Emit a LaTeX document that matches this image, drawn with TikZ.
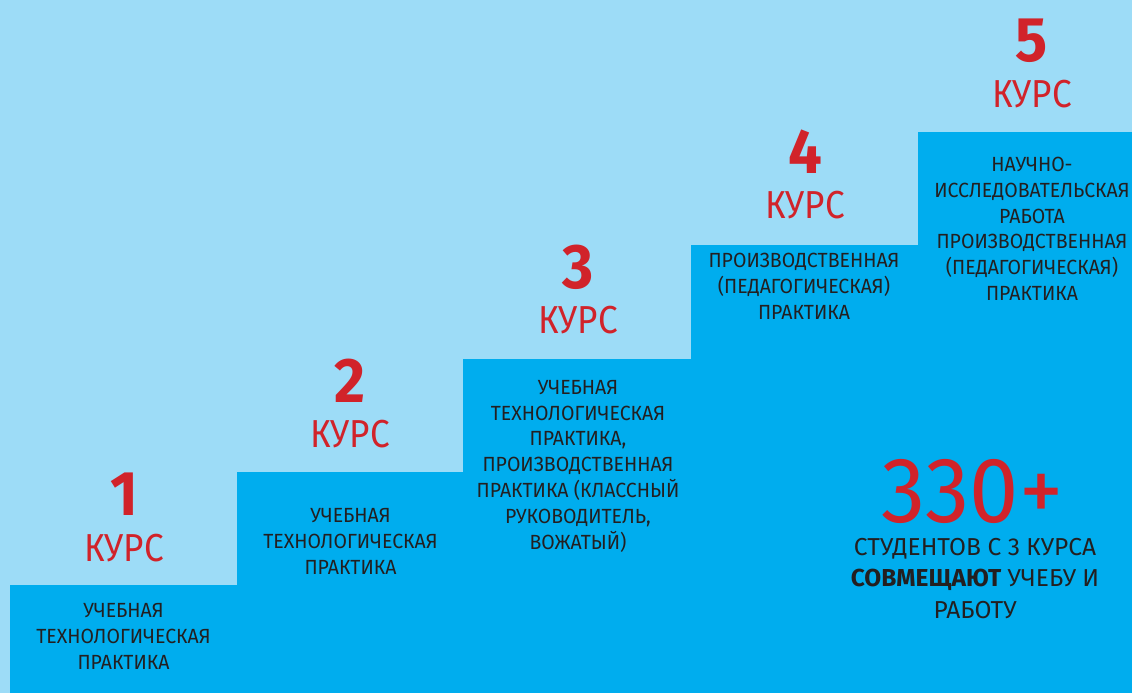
\documentclass[tikz,border=0pt]{standalone}
\usepackage{fontspec}
\setmainfont{Fira Sans}[FakeStretch=0.95]
\newfontfamily\kursfont{Fira Sans}[FakeStretch=0.9]
\newfontfamily\statfont{Fira Sans}[FakeStretch=1.0]
\definecolor{bglight}{HTML}{9DDCF7}
\definecolor{stepblue}{HTML}{00ADEE}
\definecolor{kred}{HTML}{D1232A}
\definecolor{ink}{HTML}{231F20}
\tikzset{
  stepbox/.style={fill=stepblue, draw=none},
  numtxt/.style={anchor=base, inner sep=0pt, text=kred, font=\fontsize{63}{63}\selectfont\bfseries},
  kurstxt/.style={anchor=base, inner sep=0pt, text=kred, font=\kursfont\fontsize{39}{39}\selectfont},
  bodytxt/.style={anchor=north, inner sep=0pt, text=ink, align=center, font=\fontsize{20.5}{25.8}\selectfont},
  bigtxt/.style={anchor=base, inner sep=0pt, text=kred, font=\fontsize{93}{93}\selectfont},
  statstxt/.style={anchor=base, inner sep=0pt, text=ink, align=center, font=\statfont\fontsize{24.5}{31.5}\selectfont}
}
\begin{document}
\begin{tikzpicture}[x=1pt,y=-1pt]
\fill[bglight] (0,0) rectangle (1132,693);
\useasboundingbox (0,0) rectangle (1132,693);
% steps
\path[stepbox] (10,585) rectangle (237,693);
\path[stepbox] (237,472) rectangle (464,693);
\path[stepbox] (463,359) rectangle (691,693);
\path[stepbox] (691,245) rectangle (918,693);
\path[stepbox] (918,132) rectangle (1132,693);
% numbers
\node[numtxt] (n1) at (124,515) {1};
\node[kurstxt] (k1) at (124,561) {КУРС};
\node[numtxt] (n2) at (350,402) {2};
\node[kurstxt] (k2) at (350,447) {КУРС};
\node[numtxt] (n3) at (578,288) {3};
\node[kurstxt] (k3) at (578,333) {КУРС};
\node[numtxt] (n4) at (805,173) {4};
\node[kurstxt] (k4) at (805,218) {КУРС};
\node[numtxt] (n5) at (1032,62) {5};
\node[kurstxt] (k5) at (1032,107) {КУРС};
% body texts
\node[bodytxt] (t1) at (123.5,603.5) {УЧЕБНАЯ\\ТЕХНОЛОГИЧЕСКАЯ\\ПРАКТИКА};
\node[bodytxt] (t2) at (350.5,508.5) {УЧЕБНАЯ\\ТЕХНОЛОГИЧЕСКАЯ\\ПРАКТИКА};
\node[bodytxt] (t3) at (578,380) {УЧЕБНАЯ\\ТЕХНОЛОГИЧЕСКАЯ\\ПРАКТИКА,\\ПРОИЗВОДСТВЕННАЯ\\ПРАКТИКА (КЛАССНЫЙ\\РУКОВОДИТЕЛЬ,\\ВОЖАТЫЙ)};
\node[bodytxt] (t4) at (804,253) {ПРОИЗВОДСТВЕННАЯ\\(ПЕДАГОГИЧЕСКАЯ)\\ПРАКТИКА};
\node[bodytxt] (t5) at (1032,157) {НАУЧНО-\\ИССЛЕДОВАТЕЛЬСКАЯ\\РАБОТА\\ПРОИЗВОДСТВЕННАЯ\\(ПЕДАГОГИЧЕСКАЯ)\\ПРАКТИКА};
% stats
\node[bigtxt] (big) at (972.5,522) {330+};
\node[statstxt, anchor=north] (st) at (975,538) {СТУДЕНТОВ С 3 КУРСА\\\textbf{СОВМЕЩАЮТ} УЧЕБУ И\\РАБОТУ};
\end{tikzpicture}
\end{document}
